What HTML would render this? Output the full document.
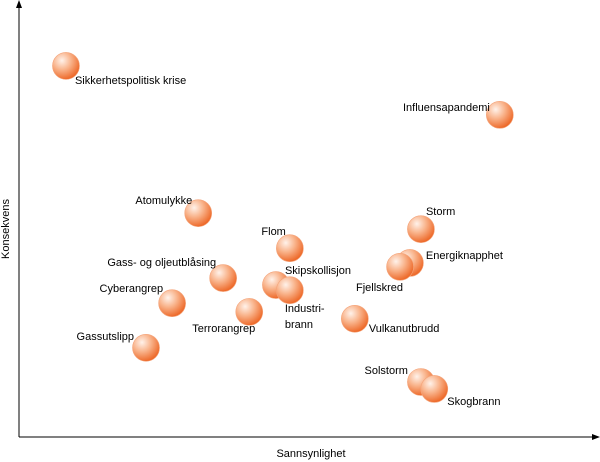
<!DOCTYPE html>
<html><head><meta charset="utf-8"><style>
html,body{margin:0;padding:0;background:#fff;}
svg{display:block;font-family:"Liberation Sans","DejaVu Sans",sans-serif;}
</style></head><body>
<svg id="chart" width="600" height="462">
<defs>
<radialGradient id="ball" cx="0.35" cy="0.3" r="0.75">
<stop offset="0" stop-color="#fff2ea"/>
<stop offset="0.45" stop-color="#f9b48c"/>
<stop offset="1" stop-color="#ec6220"/>
</radialGradient>
<marker id="arr" markerWidth="8" markerHeight="8" refX="4" refY="4" orient="auto"><path d="M0,1 L8,4 L0,7 z" fill="#000"/></marker>
</defs>
<line x1="19" y1="437" x2="19" y2="4" stroke="#000" stroke-width="1" marker-end="url(#arr)"/>
<line x1="19" y1="437" x2="596" y2="437" stroke="#000" stroke-width="1" marker-end="url(#arr)"/>
<text x="311" y="457" font-size="11" text-anchor="middle">Sannsynlighet</text>
<text x="0" y="0" font-size="11" text-anchor="middle" transform="translate(9,229) rotate(-90)">Konsekvens</text>
<g id="marks"></g>
</svg>
<script>
const names=["Sikkerhetspolitisk krise","Influensapandemi","Atomulykke","Flom","Storm","Energiknapphet","Gass- og oljeutblåsing","Skipskollisjon","Industri-|brann","Cyberangrep","Terrorangrep","Vulkanutbrudd","Gassutslipp","Fjellskred","Solstorm","Skogbrann"];
const probability=[8.1,82.9,30.9,46.7,69.3,67.4,35.2,44.3,46.7,26.4,39.7,57.9,21.9,65.7,69.3,71.6];
const consequence=[85.7,74.4,51.7,43.6,48.0,40.2,36.7,35.1,33.9,30.9,28.9,27.3,20.6,39.3,12.7,11.1];
const labelDx=[9,-10,-6,-4,5,16,-7,9,-5,-9,6,14,-12,3,-13,13];
const labelDy=[18,-4,-9,-13,-14,-4,-12,-11,22,-11,20,13,-8,24,-8,16];
const labelAnchor=["start","end","end","end","start","start","end","start","start","end","end","start","end","end","end","start"];
const xs=v=>19+v*5.8, ys=v=>437-v*4.33;
const g=document.getElementById('marks');
const NS="http://www.w3.org/2000/svg";
for(let i=0;i<names.length;i++){
  const cx=xs(probability[i]), cy=ys(consequence[i]);
  const c=document.createElementNS(NS,'circle');
  c.setAttribute('cx',cx);c.setAttribute('cy',cy);c.setAttribute('r',13.5);
  c.setAttribute('fill','url(#ball)');c.setAttribute('stroke','#f4a57c');c.setAttribute('stroke-width','0.6');
  
  
  g.appendChild(c);
  const t=document.createElementNS(NS,'text');
  t.setAttribute('x',cx+labelDx[i]);t.setAttribute('y',cy+labelDy[i]);
  t.setAttribute('font-size','11');t.setAttribute('text-anchor',labelAnchor[i]);
  
  
  const parts=names[i].split('|');
  parts.forEach((p,k)=>{const s=document.createElementNS(NS,'tspan');s.setAttribute('x',cx+labelDx[i]);s.setAttribute('dy',k?16:0);s.textContent=p;t.appendChild(s);});
  g.appendChild(t);
}
</script>
</body></html>
